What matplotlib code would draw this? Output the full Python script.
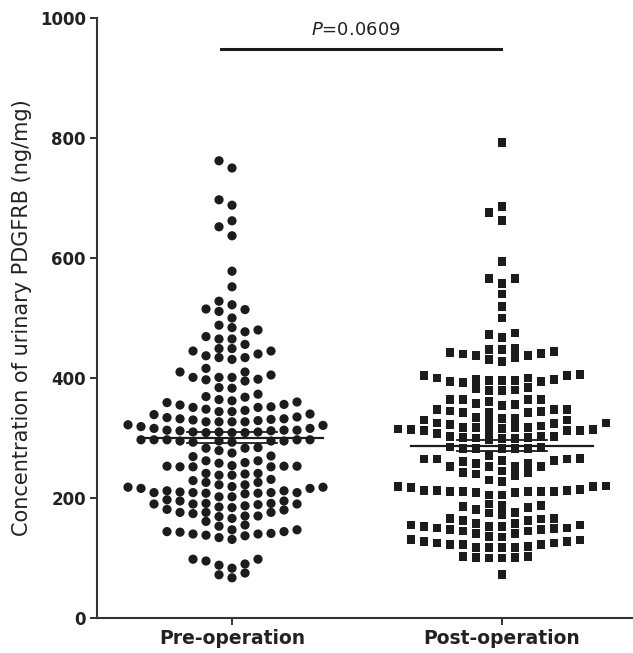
import numpy as np
import matplotlib
matplotlib.use("Agg")
import matplotlib.pyplot as plt

# --- dane ---
groups = ["Pre-operation", "Post-operation"]

pre_values = [
    762, 750, 697, 688, 662, 652, 637, 578, 552,
    522, 514, 511, 515, 528, 500,
    488, 480, 484, 477,
    469, 465, 456, 465,
    449, 445, 440, 434, 431, 434, 437, 445, 449,
    416, 410, 401, 401, 397, 395, 398, 401, 405, 410,
    384, 383, 373, 368, 369,
    362, 359, 355, 351, 348, 344, 344, 346, 351, 352, 356, 360, 364,
    340, 335, 332, 331, 329, 327, 327, 327, 327, 330, 332, 334, 339,
    321, 319, 322,
    316, 313, 312, 310, 309, 309, 310, 309, 310, 312, 313, 313, 316,
    297, 295, 293, 297, 295, 297, 297, 297, 293, 295, 295,
    283, 283, 275, 279, 284,
    269, 262, 258, 253, 253, 252, 252, 252, 253, 254, 259, 262, 270,
    241, 240, 238, 238, 241,
    222, 219, 229, 218, 226, 216, 226, 218, 231, 222,
    212, 210, 209, 208, 207, 202, 202, 208, 209, 209, 209, 212, 216,
    197,
    195, 191, 190, 189, 187, 184, 180, 181, 185, 190, 190, 191, 195,
    176, 176, 170, 169, 161, 155, 166, 170, 174, 176,
    153, 147, 144, 141, 140, 138, 131, 134, 137, 140, 143, 144, 147,
    98, 90, 88, 95, 98,
    75, 67, 72, 83,
]

post_values = [
    793, 686, 676, 662, 594, 566, 566, 558, 540, 519, 500, 473, 468, 475,
    448, 444, 440, 438, 434, 428, 431, 437, 441, 442, 447, 449,
    398, 397, 396, 394, 404, 400, 400, 404, 406, 393, 394, 396, 396,
    382, 380, 379, 379, 384,
    364, 364, 357, 354, 347, 345, 342, 347, 347, 356, 361, 364, 364,
    344, 343, 333, 330, 328, 325, 322, 324, 325, 330, 333, 334, 343,
    318, 317, 312, 313, 314, 312, 312, 314, 315, 316, 318, 318, 320, 308,
    300, 298, 302, 301, 302, 301, 299, 302, 299,
    285, 283, 282, 283, 282, 282, 284, 271,
    265, 265, 263, 258, 253, 253, 252, 253, 257, 261, 263, 265, 266,
    245, 242, 238, 240, 242,
    209, 220, 212, 219, 205, 214, 205, 227, 218, 219, 209, 230,
    212, 211, 211, 211, 211, 211, 212,
    190, 188, 184, 181, 186, 188,
    166, 163, 176, 172, 163, 175, 166, 165,
    157, 155, 152, 150, 147, 145, 145, 147, 150, 152, 152, 155, 158,
    141, 136, 149,
    135, 131, 125, 123, 122, 123, 125, 128, 128, 130, 141,
    118, 118, 117, 117, 119,
    103, 101, 100, 100, 101, 102,
    73,
]

p_text = "=0.0609"
INK = "#1c1c1c"


def row_offsets(y_px, row_h=9.6, gap=9.0, step=13.0):
    """Rozkład jak w Prism: wiersze od najniższej wartości, środek -> na przemian,
    kolumna zajęta gdy punkt z innego wiersza jest bliżej niż `gap` pikseli."""
    order = np.argsort(y_px, kind="stable")
    cols = [0]
    for j in range(1, 60):
        cols += [-j, j]
    xs = np.zeros(len(y_px))
    placed = []  # (kolumna, y, wiersz)
    start, row = None, -1
    for i in order:
        y = y_px[i]
        if start is None or y - start >= row_h:
            start, row = y, row + 1
        for c in cols:
            if all(pc != c or (pr != row and y - py >= gap) for pc, py, pr in placed):
                break
        placed.append((c, y, row))
        xs[i] = c * step
    return xs


fig = plt.figure(figsize=(6.33, 6.53), dpi=100)
ax = fig.add_axes([97 / 633, 35 / 653, 536 / 633, 600 / 653])
ax.set_xlim(-0.5, 1.485)
ax.set_ylim(0, 1000)

markers = ["o", "s"]
for pos, (vals, mk) in enumerate(zip([pre_values, post_values], markers)):
    vals = np.asarray(vals, dtype=float)
    disp = ax.transData.transform(np.column_stack([np.full(len(vals), pos), vals]))
    disp[:, 0] += row_offsets(disp[:, 1])
    data_xy = ax.transData.inverted().transform(disp)
    ax.scatter(data_xy[:, 0], data_xy[:, 1], marker=mk, s=44 if mk == "o" else 40,
               color=INK, edgecolors="none", zorder=3)

    mean = vals.mean()
    sem = vals.std(ddof=1) / np.sqrt(len(vals))
    ax.plot([pos - 0.337, pos + 0.337], [mean, mean], color=INK, lw=1.6, zorder=4)
    for v in (mean - sem, mean + sem):
        ax.plot([pos - 0.167, pos + 0.167], [v, v], color=INK, lw=1.3, zorder=4)

# linia istotności
ax.plot([-0.04, 0.995], [948, 948], color=INK, lw=2.2, clip_on=False)
ax.text(0.46, 980, "$\\it{P}$" + p_text, ha="center", va="center", fontsize=13,
        family="DejaVu Sans", color="#222222")

ax.set_xticks([0, 1])
ax.set_xticklabels(groups, fontsize=13.5, fontweight="bold", family="DejaVu Sans", color="#222222")
ax.set_yticks(np.arange(0, 1001, 200))
ax.set_yticklabels([str(v) for v in range(0, 1001, 200)], fontsize=12, fontweight="bold",
                   family="DejaVu Sans", color="#222222")
ax.tick_params(axis="both", direction="out", length=5, width=1.4, color="#333333")
ax.tick_params(axis="x", pad=3)
ax.tick_params(axis="y", pad=3)

ax.set_ylabel("Concentration of urinary PDGFRB (ng/mg)", fontsize=15, family="DejaVu Sans",
              color="#222222", labelpad=6)

for side in ["top", "right"]:
    ax.spines[side].set_visible(False)
for side in ["left", "bottom"]:
    ax.spines[side].set_linewidth(1.5)
    ax.spines[side].set_color("#333333")

plt.savefig("out.png", dpi=100)
